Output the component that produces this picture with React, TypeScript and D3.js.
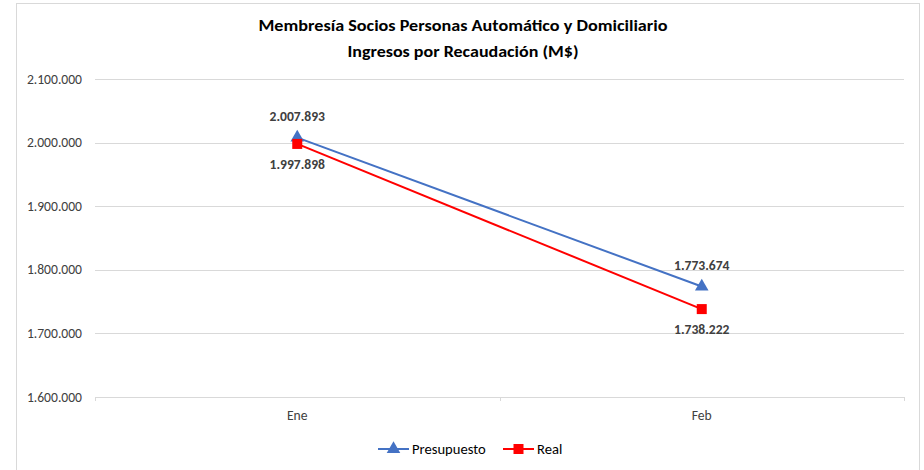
import React, { useRef, useEffect } from "react";
import * as d3 from "d3";

const categories = ["Ene", "Feb"];
const presupuesto = [2007893, 1773674];
const real = [1997898, 1738222];
const yTicks = [1600000, 1700000, 1800000, 1900000, 2000000, 2100000];
const titleLines = [
  "Membresía Socios Personas Automático y Domiciliario",
  "Ingresos por Recaudación (M$)",
];

const fmt = (v: number) => d3.format(",")(v).replace(/,/g, ".");

const App = () => {
  const ref = useRef<SVGSVGElement>(null);

  useEffect(() => {
    const W = 924, H = 470;
    const svg = d3.select(ref.current).attr("width", W).attr("height", H);
    svg.selectAll("*").remove();
    const font = "Carlito, Calibri, 'Liberation Sans', sans-serif";

    svg.append("rect").attr("x", 16.5).attr("y", 3.5).attr("width", 903).attr("height", 475)
      .attr("fill", "white").attr("stroke", "#d9d9d9");

    const x = d3.scaleBand().domain(categories).range([95, 904]);
    const y = d3.scaleLinear().domain([1600000, 2100000]).range([397, 79]);

    // title
    svg.append("g").selectAll("text").data(titleLines).join("text")
      .attr("x", 463).attr("y", (d, i) => 31 + i * 26)
      .attr("text-anchor", "middle").attr("font-family", font)
      .attr("font-weight", "bold").attr("font-size", 15.5).attr("fill", "#000")
      .attr("textLength", (d, i) => (i === 0 ? 409 : 231)).attr("lengthAdjust", "spacingAndGlyphs")
      .text(d => d);

    // grid
    svg.append("g").selectAll("line").data(yTicks).join("line")
      .attr("x1", 95).attr("x2", 904).attr("y1", d => Math.round(y(d)) + 0.5).attr("y2", d => Math.round(y(d)) + 0.5)
      .attr("stroke", "#d9d9d9");

    svg.append("g").selectAll("text").data(yTicks).join("text")
      .attr("x", 82).attr("y", d => y(d) + 4.5).attr("text-anchor", "end")
      .attr("font-family", font).attr("font-size", 13.6).attr("fill", "#404040")
      .text(d => fmt(d));

    // category ticks
    const tickXs = [95, 95 + x.bandwidth(), 904];
    svg.append("g").selectAll("line").data(tickXs).join("line")
      .attr("x1", d => Math.round(d) + 0.5).attr("x2", d => Math.round(d) + 0.5)
      .attr("y1", y(1600000)).attr("y2", y(1600000) + 4).attr("stroke", "#d9d9d9");

    svg.append("g").selectAll("text").data(categories).join("text")
      .attr("x", d => x(d)! + x.bandwidth() / 2).attr("y", 420).attr("text-anchor", "middle")
      .attr("font-family", font).attr("font-size", 13.6).attr("fill", "#404040")
      .text(d => d);

    const cx = (i: number) => x(categories[i])! + x.bandwidth() / 2;
    const line = d3.line<number>().x((d, i) => cx(i)).y(d => y(d));
    const tri = d3.symbol().type(d3.symbolTriangle).size(80);

    svg.append("path").datum(presupuesto).attr("d", line).attr("fill", "none")
      .attr("stroke", "#4472C4").attr("stroke-width", 2);
    svg.append("path").datum(real).attr("d", line).attr("fill", "none")
      .attr("stroke", "#FF0000").attr("stroke-width", 2);

    svg.append("g").selectAll("path").data(presupuesto).join("path")
      .attr("d", tri).attr("transform", (d, i) => `translate(${cx(i)},${y(d)})`).attr("fill", "#4472C4");
    svg.append("g").selectAll("rect").data(real).join("rect")
      .attr("x", (d, i) => cx(i) - 5).attr("y", d => y(d) - 5).attr("width", 10).attr("height", 10)
      .attr("fill", "#FF0000");

    // data labels
    svg.append("g").selectAll("text").data(presupuesto).join("text")
      .attr("x", (d, i) => cx(i)).attr("y", d => y(d) - 17).attr("text-anchor", "middle")
      .attr("font-family", font).attr("font-size", 13.6).attr("font-weight", "bold").attr("fill", "#404040")
      .text(d => fmt(d));
    svg.append("g").selectAll("text").data(real).join("text")
      .attr("x", (d, i) => cx(i)).attr("y", d => y(d) + 25).attr("text-anchor", "middle")
      .attr("font-family", font).attr("font-size", 13.6).attr("font-weight", "bold").attr("fill", "#404040")
      .text(d => fmt(d));

    // legend
    const legend = [
      { name: "Presupuesto", color: "#4472C4", x0: 378, marker: "tri" },
      { name: "Real", color: "#FF0000", x0: 503, marker: "sq" },
    ];
    const lg = svg.append("g").selectAll("g").data(legend).join("g")
      .attr("transform", d => `translate(${d.x0},449)`);
    lg.append("line").attr("x1", 0).attr("x2", 31).attr("stroke", d => d.color).attr("stroke-width", 2);
    lg.filter(d => d.marker === "tri").append("path").attr("d", tri).attr("transform", "translate(15.5,0)")
      .attr("fill", d => d.color);
    lg.filter(d => d.marker === "sq").append("rect").attr("x", 10.5).attr("y", -5).attr("width", 10).attr("height", 10)
      .attr("fill", d => d.color);
    lg.append("text").attr("x", 34).attr("y", 5).attr("font-family", font).attr("font-size", 14.6)
      .attr("fill", "#000").text(d => d.name);
  }, []);

  return <svg ref={ref} style={{ position: "absolute", left: 0, top: 0 }}></svg>;
};

export default App;
